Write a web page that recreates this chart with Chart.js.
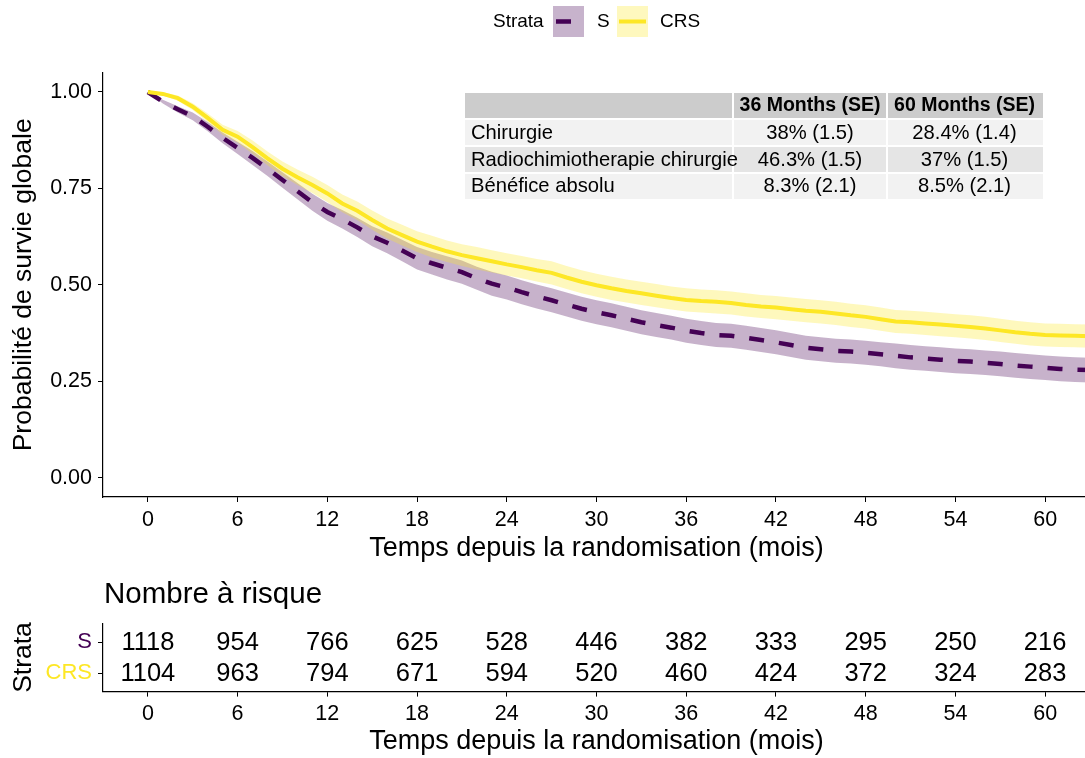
<!DOCTYPE html>
<html><head><meta charset="utf-8">
<script src="https://cdn.jsdelivr.net/npm/chart.js@4/dist/chart.umd.min.js"></script>
<style>
html,body{margin:0;padding:0;background:#fff;overflow:hidden;width:1085px;height:758px;}
#wrap{position:relative;width:1095px;height:758px;overflow:hidden;}
canvas{position:absolute;left:0;display:block;}
#main{top:0;width:1095px;height:565px;}
#risk{top:565px;width:1095px;height:193px;}
</style></head><body>
<div id="wrap"><canvas id="main" width="1095" height="565"></canvas><canvas id="risk" width="1095" height="193"></canvas></div>
<script>
const FONT = '"Liberation Sans", Arial, Helvetica, sans-serif';
const PURPLE = '#440154', YELLOW = '#FDE725';
const BAND_S = 'rgba(68,1,84,0.3)', BAND_CRS = 'rgba(253,231,37,0.3)';

const months = [0,1,2,3,4,5,6,7,8,9,10,11,12,13,14,15,16,17,18,19,20,21,22,23,24,25,26,27,28,29,30,31,32,33,34,35,36,37,38,39,40,41,42,43,44,45,46,47,48,49,50,51,52,53,54,55,56,57,58,59,60,61,62,63];
const survS = [1.000,0.975,0.955,0.937,0.910,0.881,0.855,0.829,0.801,0.772,
  0.743,0.714,0.689,0.670,0.649,0.626,0.609,0.589,0.569,0.556,
  0.544,0.533,0.517,0.503,0.493,0.481,0.470,0.460,0.449,0.438,
  0.429,0.421,0.412,0.403,0.396,0.389,0.381,0.375,0.370,0.368,
  0.363,0.357,0.351,0.344,0.337,0.333,0.329,0.327,0.324,0.320,
  0.316,0.312,0.309,0.306,0.303,0.301,0.298,0.295,0.291,0.288,
  0.285,0.282,0.280,0.279];
const survCRS = [1.000,0.995,0.984,0.962,0.933,0.902,0.884,0.857,0.828,0.801,
  0.779,0.759,0.737,0.711,0.692,0.668,0.646,0.629,0.612,0.599,
  0.587,0.577,0.569,0.561,0.553,0.546,0.538,0.531,0.519,0.508,
  0.499,0.491,0.484,0.478,0.472,0.466,0.461,0.458,0.456,0.453,
  0.448,0.444,0.441,0.437,0.433,0.430,0.426,0.421,0.417,0.411,
  0.405,0.403,0.400,0.397,0.394,0.391,0.387,0.382,0.377,0.373,
  0.370,0.369,0.368,0.367];
const ciHalfS = [0,0.005,0.008,0.010,0.012,0.014,0.016,0.018,0.019,0.020,
  0.021,0.022,0.023,0.024,0.025,0.026,0.027,0.028,0.029,0.029,
  0.030,0.030,0.030,0.031,0.031,0.031,0.031,0.031,0.031,0.031,
  0.031,0.031,0.031,0.031,0.031,0.031,0.031,0.031,0.031,0.031,
  0.031,0.031,0.031,0.031,0.031,0.031,0.031,0.031,0.031,0.031,
  0.032,0.032,0.032,0.032,0.032,0.032,0.032,0.032,0.032,0.032,
  0.032,0.032,0.032,0.032];
const ciHalfCRS = [0,0.004,0.007,0.009,0.011,0.013,0.015,0.017,0.018,0.019,
  0.020,0.021,0.022,0.023,0.024,0.025,0.026,0.027,0.027,0.028,
  0.028,0.028,0.029,0.029,0.029,0.029,0.029,0.030,0.030,0.030,
  0.030,0.030,0.030,0.030,0.030,0.030,0.030,0.030,0.030,0.030,
  0.030,0.030,0.030,0.030,0.030,0.030,0.030,0.030,0.030,0.030,
  0.030,0.030,0.030,0.030,0.030,0.030,0.030,0.030,0.030,0.030,
  0.030,0.030,0.030,0.030];

const xTicks = [0,6,12,18,24,30,36,42,48,54,60];
const yTicks = [0,0.25,0.5,0.75,1];
const strata = ['S','CRS'];
const riskS = [1118,954,766,625,528,446,382,333,295,250,216];
const riskCRS = [1104,963,794,671,594,520,460,424,372,324,283];

const tableHeader = ['', '36 Months (SE)', '60 Months (SE)'];
const tableRows = [
  ['Chirurgie', '38% (1.5)', '28.4% (1.4)'],
  ['Radiochimiotherapie chirurgie', '46.3% (1.5)', '37% (1.5)'],
  ['Bénéfice absolu', '8.3% (2.1)', '8.5% (2.1)']
];
const X_TITLE = 'Temps depuis la randomisation (mois)';

const pts = (vals, half, sign) => months.map((m, i) => ({x: m, y: vals[i] + sign * half[i]}));
const bandDs = (data, fill, color, order) => ({data, fill, backgroundColor: color, borderColor: 'rgba(0,0,0,0)', borderWidth: 0, pointRadius: 0, tension: 0, order});

function xScale(height) {
  return {
    type: 'linear', min: -3, max: 63,
    afterBuildTicks: s => { s.ticks = xTicks.map(v => ({value: v})); },
    afterFit: s => { s.height = height; },
    ticks: {autoSkip: false, maxRotation: 0, color: '#000', padding: 5, font: {family: FONT, size: 21.5}, callback: v => String(v)},
    grid: {display: true, drawOnChartArea: false, drawTicks: true, tickLength: 5, color: '#000', lineWidth: 1},
    border: {display: true, color: '#000', width: 1.2},
    title: {display: true, text: X_TITLE, color: '#000', font: {family: FONT, size: 27}, padding: {top: 0, bottom: 0}}
  };
}

// legend + table plugin for main chart
const mainDecor = {
  id: 'mainDecor',
  afterDraw(chart) {
    const ctx = chart.ctx;
    ctx.save();
    // legend
    ctx.font = '19px ' + FONT;
    ctx.fillStyle = '#000';
    ctx.textBaseline = 'middle';
    ctx.textAlign = 'left';
    ctx.fillText('Strata', 493, 22);
    ctx.fillStyle = '#C7B3CC';
    ctx.fillRect(553, 6, 31, 31);
    ctx.fillStyle = '#FEF8BE';
    ctx.fillRect(617, 6, 31, 31);
    ctx.lineWidth = 4.5;
    ctx.strokeStyle = PURPLE;
    ctx.setLineDash([15, 15]);
    ctx.beginPath(); ctx.moveTo(556, 21.5); ctx.lineTo(582, 21.5); ctx.stroke();
    ctx.setLineDash([]);
    ctx.lineWidth = 4;
    ctx.strokeStyle = YELLOW;
    ctx.beginPath(); ctx.moveTo(619, 21.5); ctx.lineTo(646, 21.5); ctx.stroke();
    ctx.fillStyle = '#000';
    ctx.fillText(strata[0], 597, 22);
    ctx.fillText(strata[1], 660, 22);

    // table
    const colX = [465, 734, 888, 1043];
    const rowY = [93, 120, 147, 174, 199];
    const fills = ['#CCCCCC', '#F2F2F2', '#E5E5E5', '#F2F2F2'];
    for (let r = 0; r < 4; r++) {
      for (let c = 0; c < 3; c++) {
        ctx.fillStyle = fills[r];
        const x0 = colX[c], x1 = colX[c + 1] - (c < 2 ? 2 : 0);
        const y0 = rowY[r], y1 = rowY[r + 1] - (r < 3 ? 2 : 0);
        ctx.fillRect(x0, y0, x1 - x0, y1 - y0);
      }
    }
    const rows = [tableHeader].concat(tableRows);
    for (let r = 0; r < 4; r++) {
      const yc = (rowY[r] + rowY[r + 1] - 2) / 2 + 0.5;
      ctx.font = (r === 0 ? 'bold 19.5px ' : '20.2px ') + FONT;
      ctx.fillStyle = '#000';
      for (let c = 0; c < 3; c++) {
        const txt = rows[r][c];
        if (!txt) continue;
        if (c === 0) { ctx.textAlign = 'left'; ctx.fillText(txt, 471, yc); }
        else { ctx.textAlign = 'center'; ctx.fillText(txt, (colX[c] + colX[c + 1] - 2) / 2, yc); }
      }
    }
    ctx.restore();
  }
};

new Chart(document.getElementById('main'), {
  type: 'line',
  data: {
    datasets: [
      bandDs(pts(survS, ciHalfS, 1), '+1', BAND_S, 6),
      bandDs(pts(survS, ciHalfS, -1), false, BAND_S, 6),
      {data: pts(survS, ciHalfS, 0), borderColor: PURPLE, borderWidth: 4.5, borderDash: [15, 15], fill: false, pointRadius: 0, tension: 0, order: 4},
      bandDs(pts(survCRS, ciHalfCRS, 1), '+1', BAND_CRS, 3),
      bandDs(pts(survCRS, ciHalfCRS, -1), false, BAND_CRS, 3),
      {data: pts(survCRS, ciHalfCRS, 0), borderColor: YELLOW, borderWidth: 4, fill: false, pointRadius: 0, tension: 0, order: 1}
    ]
  },
  options: {
    responsive: false, animation: false, devicePixelRatio: 1,
    layout: {padding: {top: 72.7, right: 5, bottom: 0, left: 0}},
    plugins: {legend: {display: false}, tooltip: {enabled: false}, title: {display: false}},
    scales: {
      x: xScale(68),
      y: {
        type: 'linear', min: -0.05, max: 1.05,
        afterBuildTicks: s => { s.ticks = yTicks.map(v => ({value: v})); },
        afterFit: s => { s.width = 103; },
        ticks: {color: '#000', padding: 6, font: {family: FONT, size: 21.5}, callback: v => Number(v).toFixed(2)},
        grid: {display: true, drawOnChartArea: false, drawTicks: true, tickLength: 5, color: '#000', lineWidth: 1},
        border: {display: true, color: '#000', width: 1.2},
        title: {display: true, text: 'Probabilité de survie globale', color: '#000', font: {family: FONT, size: 26.5}, padding: {top: 8, bottom: 0}}
      }
    }
  },
  plugins: [mainDecor]
});

// risk table
const riskDecor = {
  id: 'riskDecor',
  afterDatasetsDraw(chart) {
    const ctx = chart.ctx;
    ctx.save();
    ctx.font = '29.5px ' + FONT;
    ctx.fillStyle = '#000';
    ctx.textAlign = 'left';
    ctx.textBaseline = 'middle';
    ctx.fillText('Nombre à risque', 104, 30);
    ctx.font = '25.5px ' + FONT;
    ctx.textAlign = 'center';
    chart.data.datasets.forEach((ds, di) => {
      const meta = chart.getDatasetMeta(di);
      meta.data.forEach((el, i) => {
        ctx.fillText(String(ds.data[i].n), el.x, el.y + 1);
      });
    });
    ctx.restore();
  }
};

new Chart(document.getElementById('risk'), {
  type: 'scatter',
  data: {
    datasets: [
      {data: xTicks.map((m, i) => ({x: m, y: 1, n: riskS[i]})), pointRadius: 0},
      {data: xTicks.map((m, i) => ({x: m, y: 2, n: riskCRS[i]})), pointRadius: 0}
    ]
  },
  options: {
    responsive: false, animation: false, devicePixelRatio: 1,
    layout: {padding: {top: 58.4, right: 5, bottom: 0, left: 0}},
    plugins: {legend: {display: false}, tooltip: {enabled: false}},
    scales: {
      x: xScale(66.4),
      y: {
        type: 'linear', min: 0.4, max: 2.6, reverse: true,
        afterBuildTicks: s => { s.ticks = [1, 2].map(v => ({value: v})); },
        afterFit: s => { s.width = 103; },
        ticks: {padding: 6, font: {family: FONT, size: 22}, color: c => (c.index === 0 ? PURPLE : YELLOW), callback: v => strata[v - 1]},
        grid: {display: true, drawOnChartArea: false, drawTicks: true, tickLength: 5, color: '#000', lineWidth: 1},
        border: {display: true, color: '#000', width: 1.2},
        title: {display: true, text: 'Strata', color: '#000', font: {family: FONT, size: 26.5}, padding: {top: 8, bottom: 0}}
      }
    }
  },
  plugins: [riskDecor]
});
</script>
</body></html>
